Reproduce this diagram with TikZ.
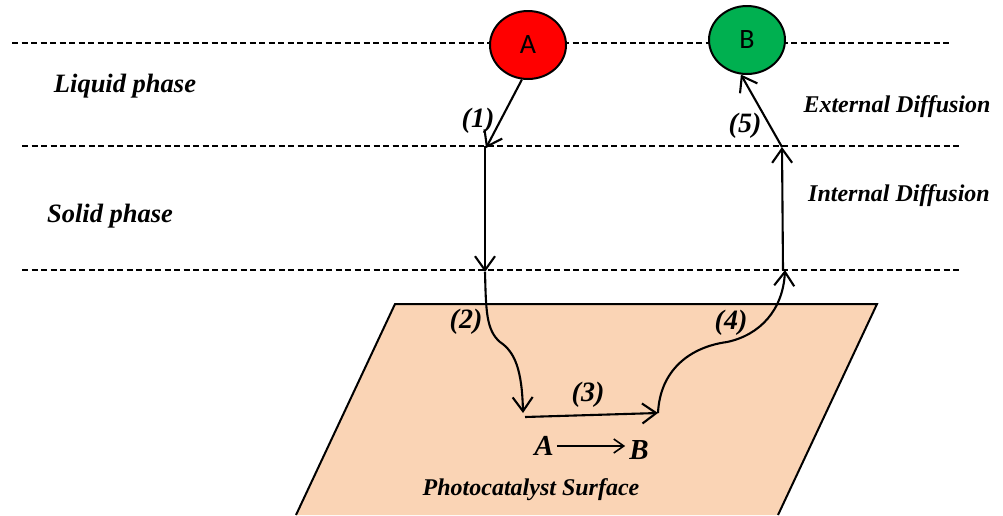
\documentclass[tikz,border=0pt]{standalone}
\usepackage{fontspec}
\setmainfont{Liberation Serif}
\newfontfamily\calib{Carlito}
\usetikzlibrary{arrows.meta,shapes.geometric}
\definecolor{surf}{RGB}{250,212,181}
\definecolor{redA}{RGB}{255,0,0}
\definecolor{greenB}{RGB}{0,176,80}
\begin{document}
\begin{tikzpicture}[x=1pt,y=-1pt,
  lbl/.style={font=\fontsize{26.5}{26.5}\selectfont\bfseries\itshape, inner sep=0pt},
  side/.style={font=\fontsize{24}{24}\selectfont\bfseries\itshape, inner sep=0pt},
  num/.style={font=\fontsize{28}{28}\selectfont\bfseries\itshape, inner sep=0pt},
  dl/.style={dash pattern=on 6pt off 3.5pt, line width=1.3pt},
  arr/.style={line width=2.1pt, -{Straight Barb[length=14pt,width=20pt,line width=2.1pt]}},
  mol/.style={ellipse, draw=black, line width=2pt, minimum width=76pt, minimum height=68pt, inner sep=0pt, font=\calib\fontsize{28}{28}\selectfont}]
\useasboundingbox (0,0) rectangle (1003,515);
% surface
\fill[surf] (395,304) -- (877,304) -- (778,515) -- (296,515) -- cycle;
\draw[line width=2pt] (296,515) -- (395,304) -- (877,304) -- (778,515);
% dashed phase boundaries
\draw[dl] (12,43) -- (952,43);
\draw[dl] (22,146) -- (962,146);
\draw[dl] (22,270) -- (962,270);
% molecules
\node[mol, fill=redA] (A) at (528,45) {A};
\node[mol, fill=greenB] (B) at (747,40) {B};
% path coordinates
\coordinate (p1) at (486,148);
\coordinate (p1a) at (485,146);
\coordinate (p2) at (485,272);
\coordinate (p3) at (523,413);
\coordinate (p3a) at (525,417);
\coordinate (p4) at (658,413);
\coordinate (p5) at (785,270);
\coordinate (p5a) at (783,270);
\coordinate (p6) at (782,147);
% arrows
\draw[arr] (A.260) -- (p1);
\draw[arr] (p1a) -- (p2);
\draw[arr] (p2) .. controls (486,310) and (486,330) .. (500,342) .. controls (515,352) and (522,370) .. (p3);
\draw[arr] (p3a) -- (p4);
\draw[arr] (p4) .. controls (660,370) and (690,347) .. (727,342) .. controls (760,335) and (783,310) .. (p5);
\draw[arr] (p5a) -- (p6);
\draw[arr] (p6) -- (B.-100);
% labels
\node[lbl] (liq) at (125,86) {Liquid phase};
\node[lbl] (sol) at (110,216) {Solid phase};
\node[side] (ext) at (897,107) {External Diffusion};
\node[side] (int) at (899,196) {Internal Diffusion};
\node[num] (n1) at (478,121) {(1)};
\node[num] (n2) at (466,322) {(2)};
\node[num] (n3) at (588,395) {(3)};
\node[num] (n4) at (731,323) {(4)};
\node[num] (n5) at (745,126) {(5)};
\node[font=\fontsize{29}{29}\selectfont\bfseries\itshape, inner sep=0pt] (ra) at (544,446) {A};
\node[font=\fontsize{29}{29}\selectfont\bfseries\itshape, inner sep=0pt] (rb) at (639,450) {B};
\draw[line width=1.6pt, -{Straight Barb[length=10pt,width=14pt,line width=1.6pt]}] (ra.east) ++(3,0) coordinate (ra1) (ra1) -- ([xshift=-4pt]rb.west |- ra1);
\node[side] (cat) at (531,490) {Photocatalyst Surface};
\end{tikzpicture}
\end{document}
